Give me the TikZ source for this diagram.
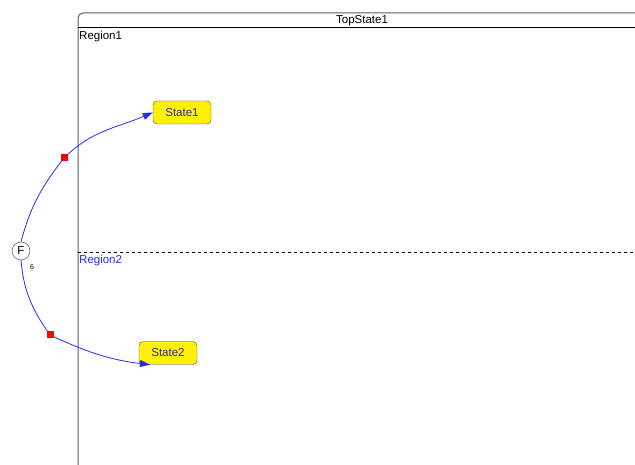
\documentclass[tikz,border=0pt]{standalone}
\usepackage{fontspec}
\setmainfont{Liberation Sans}
\usetikzlibrary{arrows.meta}

\definecolor{linkblue}{RGB}{40,40,255}
\definecolor{statetext}{RGB}{40,40,190}
\definecolor{framegray}{RGB}{90,90,90}

\begin{document}
\begin{tikzpicture}[x=1pt, y=1pt, font=\fontsize{11.5}{13}\selectfont,
	statebox/.style={draw=black!70, fill=yellow, rounded corners=4pt, minimum width=58pt, minimum height=23pt, inner sep=0pt, text=statetext},
	forkbox/.style={draw=black!80, fill=white, circle, minimum size=18pt, inner sep=0pt},
	marker/.style={fill=red, minimum size=7pt, inner sep=0pt},
	link/.style={linkblue, line width=0.8pt, -{Triangle[length=10pt,width=7pt]}}]

	\useasboundingbox (0,0) rectangle (635,465);

	% frame of TopState1
	\draw[framegray, line width=1pt, rounded corners=5pt] (78,0) -- (78,452) -- (636,452);
	\draw[black, line width=0.8pt] (78,438) -- (636,438);
	\node (title) at (362,444) {TopState1};
	\node[anchor=north west, inner sep=1pt] (region1) at (78,435) {Region1};

	\draw[black, dashed, line width=0.6pt] (78,213) -- (636,213);
	\node[anchor=north west, inner sep=1pt, text=linkblue] (region2) at (78,211) {Region2};

	% states
	\node[statebox] (s1) at (182,352.5) {State1};
	\node[statebox] (s2) at (168,112) {State2};

	% fork
	\node[forkbox] (f) at (21,214) {F};
	\node[font=\fontsize{7}{8}\selectfont] (fnum) at (32,198) {6};

	\coordinate (m1) at (64,307);
	\coordinate (m2) at (50,130);

	\draw[link] (f.north) to[out=75,in=232] (m1) to[out=45,in=203] (s1.west);
	\draw[link] (f.south) to[out=-85,in=125] (m2) to[out=-25,in=173] (s2.213);
	\node[marker] (mark1) at (m1) {};
	\node[marker] (mark2) at (m2) {};

\end{tikzpicture}
\end{document}
